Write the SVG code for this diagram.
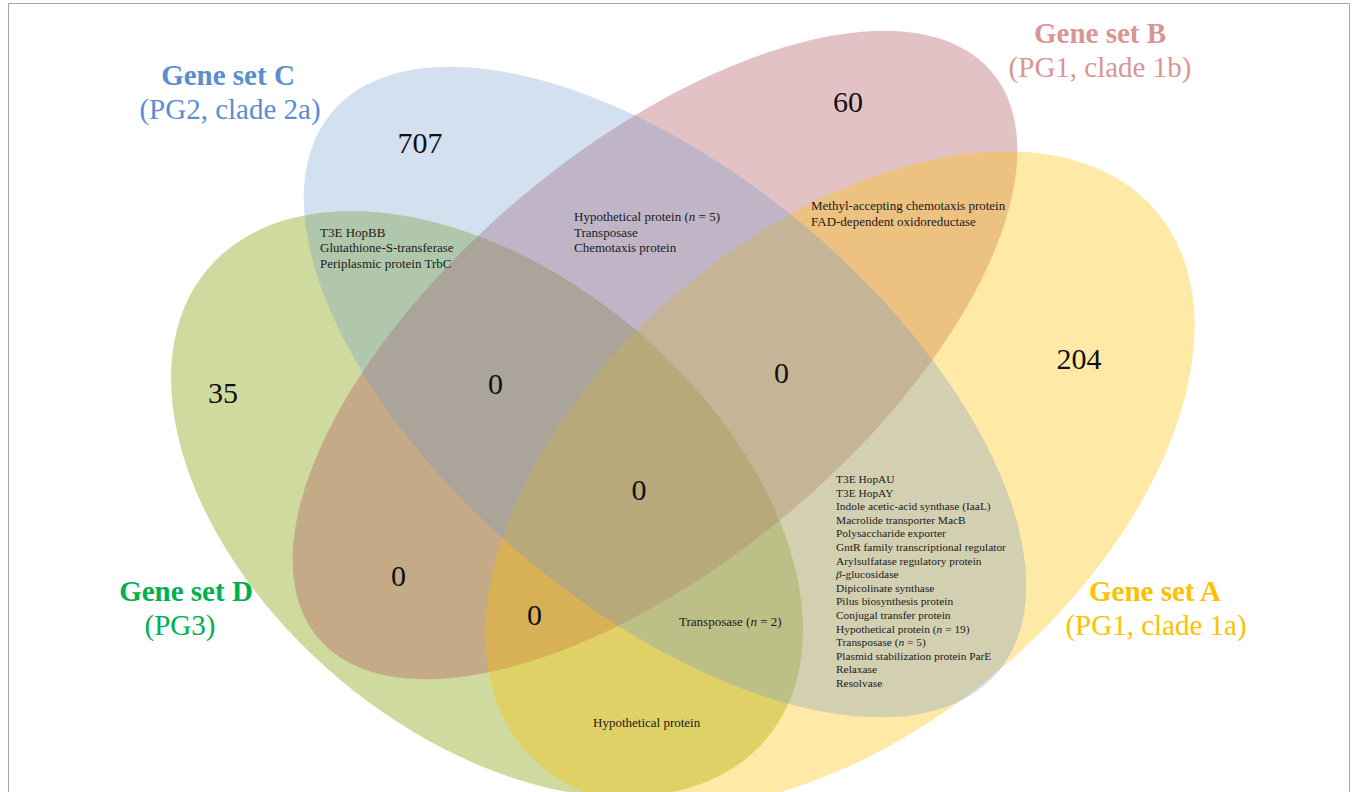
<svg xmlns="http://www.w3.org/2000/svg" width="1356" height="792" viewBox="0 0 1356 792">
<style>
.lbl{font-family:"Liberation Serif","Times New Roman",serif;font-size:29px;text-anchor:middle}
.ttl{font-weight:bold}
.num{font-family:"Liberation Serif","Times New Roman",serif;font-size:30px;text-anchor:middle;fill:#111}
.s13{font-family:"Liberation Serif","Times New Roman",serif;font-size:13px;fill:#1a1a1a}
.s11{font-family:"Liberation Serif","Times New Roman",serif;font-size:11.4px;fill:#1a1a1a}
.i{font-style:italic}
</style>
<rect x="0" y="0" width="1356" height="792" fill="#ffffff"/>
<rect x="8.5" y="3.5" width="1341" height="800" fill="none" stroke="#a6a6a6" stroke-width="1"/>
<g id="setD">
<ellipse cx="487" cy="504" rx="365" ry="229" transform="rotate(40 487 504)" fill="#9FB73D" fill-opacity="0.5"/>
</g>
<g id="setB">
<ellipse cx="655" cy="355" rx="440" ry="207" transform="rotate(-40 655 355)" fill="#B05058" fill-opacity="0.35"/>
</g>
<g id="setA">
<ellipse cx="840" cy="480" rx="415" ry="248" transform="rotate(-40.4 840 480)" fill="#FFC000" fill-opacity="0.35"/>
</g>
<g id="setC">
<ellipse cx="665" cy="392" rx="435" ry="217" transform="rotate(40 665 392)" fill="#6C97CD" fill-opacity="0.3"/>
</g>
<g id="labels">
<g id="labelC" fill="#5B8ECF"><text class="lbl ttl" x="228" y="85">Gene set C</text><text class="lbl" x="230" y="119">(PG2, clade 2a)</text></g>
<g id="labelB" fill="#D99694"><text class="lbl ttl" x="1100" y="43">Gene set B</text><text class="lbl" x="1100" y="77">(PG1, clade 1b)</text></g>
<g id="labelA" fill="#FFC000"><text class="lbl ttl" x="1155" y="601">Gene set A</text><text class="lbl" x="1156" y="635">(PG1, clade 1a)</text></g>
<g id="labelD" fill="#00B050"><text class="lbl ttl" x="186" y="601">Gene set D</text><text class="lbl" x="180" y="635">(PG3)</text></g>
</g>
<g id="counts">
<text class="num" x="420" y="153">707</text>
<text class="num" x="848" y="112">60</text>
<text class="num" x="223" y="403">35</text>
<text class="num" x="1079" y="369">204</text>
<text class="num" x="495.5" y="394">0</text>
<text class="num" x="781.5" y="383">0</text>
<text class="num" x="639" y="500">0</text>
<text class="num" x="398.5" y="586">0</text>
<text class="num" x="534.5" y="625">0</text>
</g>
<g id="regionCD">
<text class="s13" x="320" y="236.5">T3E HopBB</text>
<text class="s13" x="320" y="252">Glutathione-S-transferase</text>
<text class="s13" x="320" y="267.5">Periplasmic protein TrbC</text>
</g>
<g id="regionBC">
<text class="s13" x="574" y="220.5">Hypothetical protein (<tspan class="i">n</tspan> = 5)</text>
<text class="s13" x="574" y="236.5">Transposase</text>
<text class="s13" x="574" y="252">Chemotaxis protein</text>
</g>
<g id="regionAB">
<text class="s13" x="811" y="210">Methyl-accepting chemotaxis protein</text>
<text class="s13" x="811" y="225.5">FAD-dependent oxidoreductase</text>
</g>
<g id="regionACD">
<text class="s13" x="679" y="626">Transposase (<tspan class="i">n</tspan> = 2)</text>
</g>
<g id="regionAD">
<text class="s13" x="593" y="727">Hypothetical protein</text>
</g>
<g id="regionAC">
<text class="s11" x="836" y="483">T3E HopAU</text>
<text class="s11" x="836" y="496.6">T3E HopAY</text>
<text class="s11" x="836" y="510.2">Indole acetic-acid synthase (IaaL)</text>
<text class="s11" x="836" y="523.8">Macrolide transporter MacB</text>
<text class="s11" x="836" y="537.4">Polysaccharide exporter</text>
<text class="s11" x="836" y="551">GntR family transcriptional regulator</text>
<text class="s11" x="836" y="564.6">Arylsulfatase regulatory protein</text>
<text class="s11" x="836" y="578.2"><tspan class="i">β</tspan>-glucosidase</text>
<text class="s11" x="836" y="591.8">Dipicolinate synthase</text>
<text class="s11" x="836" y="605.4">Pilus biosynthesis protein</text>
<text class="s11" x="836" y="619">Conjugal transfer protein</text>
<text class="s11" x="836" y="632.6">Hypothetical protein (<tspan class="i">n</tspan> = 19)</text>
<text class="s11" x="836" y="646.2">Transposase (<tspan class="i">n</tspan> = 5)</text>
<text class="s11" x="836" y="659.8">Plasmid stabilization protein ParE</text>
<text class="s11" x="836" y="673.4">Relaxase</text>
<text class="s11" x="836" y="687">Resolvase</text>
</g>
</svg>
